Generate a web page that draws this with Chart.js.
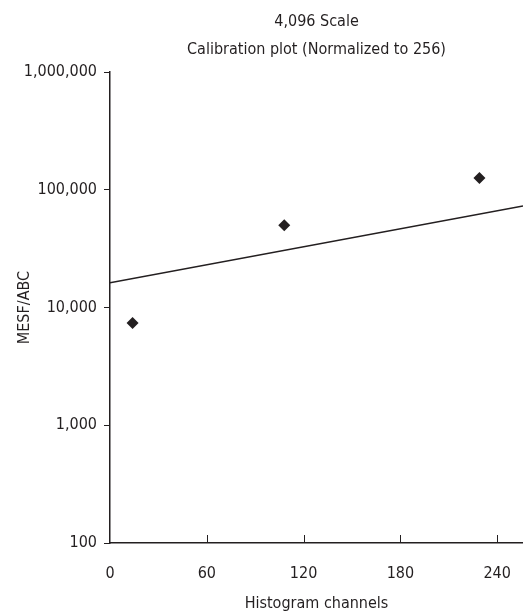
<!DOCTYPE html>
<html>
<head>
<meta charset="utf-8">
<script src="https://cdn.jsdelivr.net/npm/chart.js@4/dist/chart.umd.min.js"></script>
<style>
  html, body { margin: 0; padding: 0; background: #fff; }
  #wrap { width: 523px; height: 615px; }
</style>
</head>
<body>
<div id="wrap"><canvas id="c" width="523" height="615"></canvas></div>
<script>
// ---- data ----
const titleLines = ['4,096 Scale', 'Calibration plot (Normalized to 256)'];
const xTitle = 'Histogram channels';
const yTitle = 'MESF/ABC';
const pointX = [14, 108, 229];
const pointY = [7400, 50000, 126000];
const lineX = [0, 256];
const lineY = [16200, 72800];
const xTicks = [0, 60, 120, 180, 240];
const yTicks = [100, 1000, 10000, 100000, 1000000];
const xMin = 0, xMax = 256;
const yMin = 100, yMax = 1000000;

const FONT = "'Liberation Sans Narrow', 'DejaVu Sans Condensed', 'Roboto Condensed', sans-serif";
const INK = '#231f20';

const scatterData = pointX.map((x, i) => ({ x: x, y: pointY[i] }));
const lineData = lineX.map((x, i) => ({ x: x, y: lineY[i] }));

const inwardTicks = {
  id: 'inwardTicks',
  afterDraw(chart) {
    const xs = chart.scales.x;
    const ctx = chart.ctx;
    const bottom = chart.chartArea.bottom;
    ctx.save();
    ctx.strokeStyle = INK;
    ctx.lineWidth = 1;
    xTicks.forEach(v => {
      if (v === xMin) return;
      const px = Math.round(xs.getPixelForValue(v)) + 0.5;
      ctx.beginPath();
      ctx.moveTo(px, bottom);
      ctx.lineTo(px, bottom - 8);
      ctx.stroke();
    });
    ctx.restore();
  }
};

new Chart(document.getElementById('c'), {
  data: {
    datasets: [
      {
        type: 'scatter',
        data: scatterData,
        pointStyle: 'rectRot',
        pointRadius: 6,
        pointHoverRadius: 6,
        backgroundColor: INK,
        borderColor: INK,
        borderWidth: 0
      },
      {
        type: 'line',
        data: lineData,
        borderColor: INK,
        borderWidth: 1.5,
        pointRadius: 0,
        fill: false,
        tension: 0
      }
    ]
  },
  options: {
    responsive: false,
    animation: false,
    layout: { autoPadding: false, padding: { top: 4, right: 0, bottom: 0, left: 0 } },
    plugins: {
      legend: { display: false },
      tooltip: { enabled: false },
      title: {
        display: true,
        text: titleLines,
        fullSize: false,
        color: INK,
        font: { family: FONT, size: 16, weight: 'normal', lineHeight: 1.75 },
        padding: { top: 4, bottom: 8 }
      }
    },
    scales: {
      x: {
        type: 'linear',
        min: xMin,
        max: xMax,
        afterBuildTicks(scale) { scale.ticks = xTicks.map(v => ({ value: v })); },
        afterFit(scale) { scale.height = 72; scale.paddingLeft = 0; scale.paddingRight = 0; },
        grid: { display: true, drawOnChartArea: false, drawTicks: false },
        border: { display: true, color: INK, width: 1.5 },
        ticks: {
          color: INK,
          padding: 21,
          maxRotation: 0,
          font: { family: FONT, size: 16 },
          callback: v => String(v)
        },
        title: {
          display: true,
          text: xTitle,
          color: INK,
          font: { family: FONT, size: 16 },
          padding: { top: 6, bottom: 2 }
        }
      },
      y: {
        type: 'logarithmic',
        min: yMin,
        max: yMax,
        afterBuildTicks(scale) { scale.ticks = yTicks.map(v => ({ value: v })); },
        afterFit(scale) { scale.width = 110; },
        grid: { display: true, drawOnChartArea: false, drawTicks: true, tickLength: 6, color: INK, lineWidth: 1 },
        border: { display: true, color: INK, width: 1.5 },
        ticks: {
          color: INK,
          padding: 7,
          font: { family: FONT, size: 16 },
          callback: v => Number(v).toLocaleString('en-US')
        },
        title: {
          display: true,
          text: yTitle,
          color: INK,
          font: { family: FONT, size: 16 },
          padding: { top: 15, bottom: 0 }
        }
      }
    }
  },
  plugins: [inwardTicks]
});
</script>
</body>
</html>
